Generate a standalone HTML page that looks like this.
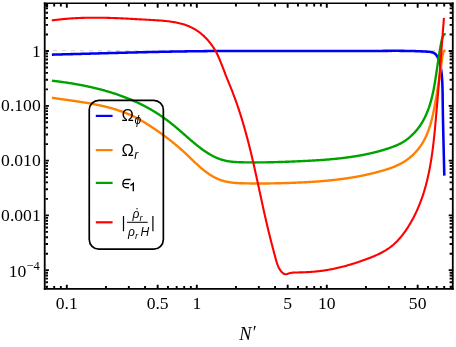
<!DOCTYPE html>
<html><head><meta charset="utf-8"><title>plot</title><style>html,body{margin:0;padding:0;background:#fff}svg{display:block;will-change:transform}</style></head><body>
<svg width="456" height="347" viewBox="0 0 456 347">
<rect width="456" height="347" fill="#fff"/>
<line x1="53" y1="50.6" x2="444.2" y2="50.6" stroke="#dcdcdc" stroke-width="1.4" stroke-dasharray="4 5"/>
<g fill="none" stroke-linecap="butt" stroke-linejoin="round">
<path d="M51.90 54.65 L53.17 54.61 L54.44 54.58 L55.71 54.55 L56.98 54.51 L58.25 54.48 L59.52 54.45 L60.79 54.41 L62.06 54.38 L63.33 54.35 L64.60 54.31 L65.87 54.28 L67.14 54.24 L68.41 54.21 L69.68 54.18 L70.95 54.14 L72.22 54.11 L73.49 54.07 L74.76 54.04 L76.03 54.00 L77.30 53.97 L78.57 53.93 L79.84 53.90 L81.11 53.86 L82.38 53.83 L83.65 53.79 L84.92 53.76 L86.19 53.72 L87.46 53.69 L88.73 53.65 L90.00 53.62 L91.27 53.58 L92.54 53.55 L93.81 53.51 L95.08 53.48 L96.35 53.44 L97.62 53.41 L98.89 53.37 L100.16 53.34 L101.43 53.30 L102.70 53.27 L103.97 53.23 L105.24 53.20 L106.51 53.16 L107.78 53.13 L109.05 53.10 L110.32 53.06 L111.59 53.03 L112.86 52.99 L114.13 52.96 L115.40 52.92 L116.67 52.89 L117.94 52.86 L119.21 52.82 L120.48 52.79 L121.75 52.76 L123.02 52.72 L124.29 52.69 L125.56 52.66 L126.83 52.62 L128.10 52.59 L129.37 52.56 L130.64 52.53 L131.91 52.49 L133.18 52.46 L134.45 52.43 L135.72 52.40 L136.99 52.37 L138.26 52.34 L139.53 52.30 L140.80 52.27 L142.07 52.24 L143.34 52.21 L144.61 52.18 L145.88 52.15 L147.15 52.12 L148.42 52.09 L149.69 52.06 L150.96 52.04 L152.23 52.01 L153.50 51.98 L154.77 51.95 L156.04 51.92 L157.31 51.90 L158.58 51.87 L159.85 51.84 L161.12 51.81 L162.39 51.79 L163.66 51.76 L164.93 51.74 L166.20 51.71 L167.47 51.69 L168.74 51.66 L170.01 51.64 L171.28 51.61 L172.55 51.59 L173.82 51.57 L175.09 51.54 L176.37 51.52 L177.64 51.50 L178.91 51.48 L180.18 51.46 L181.45 51.44 L182.72 51.42 L183.99 51.40 L185.26 51.38 L186.53 51.36 L187.80 51.34 L189.07 51.32 L190.34 51.30 L191.61 51.28 L192.88 51.27 L194.15 51.25 L195.42 51.23 L196.69 51.22 L197.96 51.20 L199.23 51.19 L200.50 51.17 L201.77 51.16 L203.04 51.15 L204.31 51.13 L205.58 51.12 L206.85 51.11 L208.12 51.10 L209.39 51.09 L210.66 51.08 L211.93 51.07 L213.20 51.06 L214.48 51.05 L215.75 51.04 L217.02 51.03 L218.29 51.02 L219.56 51.01 L220.83 51.01 L222.10 51.00 L223.37 50.99 L224.64 50.99 L225.91 50.98 L227.18 50.98 L228.45 50.97 L229.72 50.97 L230.99 50.96 L232.26 50.96 L233.53 50.95 L234.80 50.95 L236.08 50.95 L237.35 50.94 L238.62 50.94 L239.89 50.94 L241.16 50.94 L242.43 50.93 L243.70 50.93 L244.97 50.93 L246.24 50.93 L247.51 50.93 L248.78 50.93 L250.05 50.93 L251.32 50.93 L252.59 50.93 L253.87 50.93 L255.14 50.93 L256.41 50.93 L257.68 50.93 L258.95 50.93 L260.22 50.93 L261.49 50.93 L262.76 50.94 L264.03 50.94 L265.30 50.94 L266.57 50.94 L267.84 50.94 L269.11 50.95 L270.39 50.95 L271.66 50.95 L272.93 50.95 L274.20 50.96 L275.47 50.96 L276.74 50.96 L278.01 50.97 L279.28 50.97 L280.55 50.97 L281.82 50.98 L283.09 50.98 L284.36 50.98 L285.63 50.99 L286.90 50.99 L288.18 50.99 L289.45 51.00 L290.72 51.00 L291.99 51.00 L293.26 51.01 L294.53 51.01 L295.80 51.02 L297.07 51.02 L298.34 51.02 L299.61 51.03 L300.88 51.03 L302.15 51.03 L303.42 51.04 L304.69 51.04 L305.96 51.04 L307.23 51.05 L308.50 51.05 L309.78 51.05 L311.05 51.06 L312.32 51.06 L313.59 51.06 L314.86 51.07 L316.13 51.07 L317.40 51.07 L318.67 51.07 L319.94 51.08 L321.21 51.08 L322.48 51.08 L323.75 51.08 L325.02 51.08 L326.29 51.09 L327.56 51.09 L328.83 51.09 L330.10 51.09 L331.37 51.09 L332.64 51.09 L333.91 51.09 L335.18 51.09 L336.45 51.09 L337.72 51.09 L338.99 51.09 L340.26 51.09 L341.53 51.09 L342.80 51.09 L344.07 51.09 L345.34 51.09 L346.61 51.08 L347.88 51.08 L349.15 51.08 L350.42 51.08 L351.69 51.07 L352.96 51.07 L354.23 51.07 L355.50 51.06 L356.77 51.06 L358.04 51.06 L359.31 51.05 L360.58 51.05 L361.85 51.04 L363.12 51.03 L364.39 51.03 L365.66 51.02 L366.93 51.01 L368.20 51.01 L369.47 51.00 L370.74 50.99 L372.01 50.98 L373.28 50.97 L374.55 50.96 L375.82 50.95 L377.09 50.94 L378.36 50.93 L379.63 50.92 L380.90 50.91 L382.17 50.90 L383.44 50.89 L384.70 50.88 L385.97 50.88 L387.24 50.87 L388.51 50.86 L389.78 50.85 L391.05 50.85 L392.32 50.84 L393.59 50.84 L394.86 50.84 L396.14 50.84 L397.41 50.84 L398.68 50.85 L399.95 50.85 L401.22 50.86 L402.49 50.87 L403.76 50.88 L405.03 50.90 L406.31 50.91 L407.58 50.93 L408.85 50.96 L410.12 50.98 L411.40 51.01 L412.67 51.04 L413.95 51.08 L415.22 51.12 L416.49 51.16 L417.77 51.20 L419.04 51.25 L420.32 51.31 L421.60 51.37 L422.87 51.43 L424.15 51.50 L425.43 51.57 L426.70 51.64 L427.98 51.72 L429.25 51.82 L430.51 51.96 L431.72 52.18 L432.88 52.51 L433.97 52.99 L434.97 53.64 L435.87 54.50 L436.66 55.55 L437.36 56.71 L437.98 57.91 L438.53 59.12 L439.01 60.33 L439.43 61.56 L439.80 62.78 L440.13 64.02 L440.41 65.26 L440.65 66.50 L440.87 67.75 L441.06 69.00 L441.23 70.25 L441.39 71.50 L441.54 72.76 L441.67 74.01 L441.79 75.27 L441.90 76.53 L442.00 77.80 L442.09 79.06 L442.17 80.32 L442.25 81.59 L442.31 82.86 L442.37 84.12 L442.42 85.39 L442.46 86.66 L442.50 87.93 L442.53 89.20 L442.56 90.48 L442.59 91.75 L442.61 93.02 L442.63 94.29 L442.64 95.56 L442.66 96.84 L442.67 98.11 L442.69 99.38 L442.70 100.66 L442.72 101.93 L442.74 103.20 L442.75 104.47 L442.77 105.74 L442.79 107.02 L442.81 108.29 L442.83 109.56 L442.85 110.83 L442.87 112.10 L442.89 113.37 L442.91 114.64 L442.94 115.91 L442.96 117.18 L442.98 118.45 L443.01 119.72 L443.03 120.99 L443.06 122.26 L443.08 123.53 L443.11 124.80 L443.13 126.07 L443.16 127.34 L443.19 128.61 L443.22 129.88 L443.24 131.15 L443.27 132.42 L443.30 133.69 L443.33 134.96 L443.36 136.23 L443.39 137.50 L443.42 138.77 L443.45 140.04 L443.48 141.31 L443.51 142.58 L443.54 143.85 L443.57 145.11 L443.60 146.38 L443.63 147.65 L443.66 148.92 L443.69 150.19 L443.72 151.46 L443.75 152.73 L443.78 154.00 L443.81 155.27 L443.85 156.54 L443.88 157.81 L443.91 159.08 L443.94 160.35 L443.97 161.62 L444.00 162.89 L444.03 164.16 L444.06 165.43 L444.09 166.70 L444.12 167.97 L444.15 169.24 L444.18 170.52 L444.21 171.79 L444.24 173.06 L444.27 174.33 L444.30 175.60" stroke="#0000f2" stroke-width="2.55"/>
<path d="M51.96 97.76 L52.65 97.87 L53.35 97.97 L54.05 98.08 L54.75 98.18 L55.44 98.29 L56.14 98.39 L56.85 98.49 L57.55 98.59 L58.25 98.70 L58.95 98.80 L59.66 98.90 L60.36 99.00 L61.07 99.10 L61.77 99.20 L62.48 99.30 L63.19 99.40 L63.90 99.50 L64.60 99.60 L65.31 99.70 L66.02 99.80 L66.73 99.90 L67.44 100.00 L68.15 100.10 L68.87 100.20 L69.58 100.30 L70.29 100.40 L71.00 100.50 L71.72 100.61 L72.43 100.71 L73.14 100.81 L73.86 100.91 L74.57 101.02 L75.29 101.12 L76.00 101.23 L76.72 101.33 L77.43 101.44 L78.15 101.54 L78.86 101.65 L79.58 101.76 L80.29 101.87 L81.01 101.98 L81.72 102.09 L82.44 102.20 L83.15 102.32 L83.87 102.43 L84.58 102.55 L85.30 102.67 L86.01 102.78 L86.72 102.90 L87.44 103.02 L88.15 103.15 L88.87 103.27 L89.58 103.39 L90.29 103.52 L91.01 103.65 L91.72 103.78 L92.43 103.91 L93.14 104.04 L93.85 104.18 L94.56 104.32 L95.27 104.45 L95.98 104.59 L96.69 104.74 L97.40 104.88 L98.11 105.03 L98.82 105.17 L99.52 105.32 L100.23 105.48 L100.94 105.63 L101.64 105.79 L102.34 105.95 L103.05 106.11 L103.75 106.27 L104.45 106.44 L105.15 106.61 L105.85 106.78 L106.55 106.95 L107.25 107.13 L107.95 107.30 L108.64 107.48 L109.34 107.67 L110.03 107.85 L110.73 108.04 L111.42 108.24 L112.11 108.43 L112.80 108.63 L113.49 108.83 L114.18 109.03 L114.86 109.24 L115.55 109.45 L116.23 109.66 L116.92 109.88 L117.60 110.10 L118.28 110.32 L118.96 110.55 L119.64 110.78 L120.31 111.01 L120.99 111.24 L121.66 111.48 L122.33 111.73 L123.00 111.97 L123.67 112.22 L124.34 112.48 L125.01 112.73 L125.67 112.99 L126.33 113.26 L126.99 113.53 L127.65 113.80 L128.31 114.08 L128.97 114.36 L129.62 114.64 L130.28 114.93 L130.93 115.22 L131.58 115.52 L132.22 115.82 L132.87 116.12 L133.51 116.43 L134.15 116.75 L134.79 117.06 L135.43 117.39 L136.07 117.71 L136.70 118.04 L137.33 118.37 L137.97 118.71 L138.60 119.05 L139.22 119.40 L139.85 119.74 L140.47 120.10 L141.10 120.45 L141.72 120.81 L142.34 121.17 L142.96 121.53 L143.57 121.90 L144.19 122.27 L144.80 122.64 L145.42 123.01 L146.03 123.39 L146.64 123.77 L147.25 124.15 L147.85 124.53 L148.46 124.92 L149.07 125.31 L149.67 125.70 L150.27 126.09 L150.88 126.48 L151.48 126.88 L152.08 127.27 L152.68 127.67 L153.28 128.07 L153.87 128.47 L154.47 128.87 L155.06 129.28 L155.66 129.68 L156.25 130.09 L156.84 130.50 L157.44 130.91 L158.03 131.32 L158.61 131.73 L159.20 132.14 L159.79 132.56 L160.38 132.98 L160.96 133.39 L161.54 133.81 L162.13 134.24 L162.71 134.66 L163.29 135.08 L163.87 135.51 L164.45 135.93 L165.02 136.36 L165.60 136.79 L166.17 137.23 L166.75 137.66 L167.32 138.09 L167.89 138.53 L168.46 138.97 L169.03 139.41 L169.60 139.85 L170.16 140.29 L170.73 140.73 L171.29 141.18 L171.85 141.63 L172.41 142.07 L172.97 142.52 L173.53 142.98 L174.09 143.43 L174.64 143.89 L175.20 144.34 L175.75 144.80 L176.30 145.26 L176.85 145.72 L177.40 146.18 L177.95 146.65 L178.50 147.12 L179.04 147.58 L179.59 148.05 L180.13 148.52 L180.67 149.00 L181.21 149.47 L181.74 149.95 L182.28 150.43 L182.82 150.91 L183.35 151.39 L183.88 151.87 L184.41 152.35 L184.94 152.84 L185.47 153.33 L185.99 153.82 L186.52 154.31 L187.04 154.80 L187.56 155.30 L188.08 155.79 L188.60 156.29 L189.12 156.79 L189.64 157.29 L190.15 157.78 L190.67 158.28 L191.19 158.78 L191.70 159.28 L192.22 159.78 L192.74 160.28 L193.25 160.78 L193.77 161.28 L194.29 161.77 L194.81 162.27 L195.33 162.76 L195.85 163.25 L196.38 163.74 L196.90 164.23 L197.43 164.72 L197.96 165.20 L198.49 165.69 L199.02 166.17 L199.56 166.64 L200.09 167.12 L200.63 167.59 L201.18 168.06 L201.72 168.52 L202.27 168.98 L202.83 169.44 L203.38 169.89 L203.94 170.34 L204.50 170.78 L205.07 171.22 L205.64 171.65 L206.22 172.08 L206.80 172.51 L207.38 172.93 L207.97 173.34 L208.57 173.75 L209.16 174.15 L209.77 174.54 L210.37 174.93 L210.99 175.32 L211.60 175.69 L212.22 176.06 L212.85 176.42 L213.47 176.77 L214.11 177.11 L214.74 177.45 L215.38 177.78 L216.03 178.09 L216.68 178.40 L217.33 178.70 L217.98 178.99 L218.64 179.27 L219.30 179.54 L219.97 179.80 L220.64 180.05 L221.31 180.29 L221.99 180.51 L222.67 180.73 L223.35 180.93 L224.04 181.12 L224.72 181.31 L225.42 181.48 L226.11 181.63 L226.81 181.78 L227.51 181.92 L228.21 182.05 L228.91 182.18 L229.62 182.29 L230.33 182.39 L231.04 182.49 L231.75 182.58 L232.46 182.66 L233.18 182.74 L233.89 182.81 L234.61 182.87 L235.33 182.93 L236.05 182.98 L236.77 183.03 L237.49 183.07 L238.22 183.11 L238.94 183.15 L239.66 183.18 L240.39 183.20 L241.11 183.23 L241.84 183.25 L242.56 183.28 L243.28 183.30 L244.01 183.31 L244.73 183.33 L245.45 183.35 L246.18 183.36 L246.90 183.38 L247.62 183.39 L248.35 183.40 L249.07 183.42 L249.79 183.43 L250.51 183.44 L251.23 183.45 L251.95 183.46 L252.67 183.46 L253.39 183.47 L254.11 183.48 L254.83 183.48 L255.55 183.49 L256.27 183.49 L256.99 183.49 L257.71 183.49 L258.43 183.50 L259.15 183.50 L259.86 183.50 L260.58 183.50 L261.30 183.49 L262.02 183.49 L262.74 183.49 L263.45 183.48 L264.17 183.48 L264.89 183.47 L265.61 183.47 L266.32 183.46 L267.04 183.45 L267.76 183.44 L268.47 183.44 L269.19 183.43 L269.91 183.42 L270.62 183.41 L271.34 183.39 L272.06 183.38 L272.77 183.37 L273.49 183.36 L274.21 183.34 L274.92 183.33 L275.64 183.31 L276.35 183.30 L277.07 183.28 L277.79 183.26 L278.50 183.25 L279.22 183.23 L279.94 183.21 L280.65 183.19 L281.37 183.17 L282.08 183.15 L282.80 183.13 L283.52 183.11 L284.23 183.09 L284.95 183.07 L285.67 183.05 L286.38 183.02 L287.10 183.00 L287.82 182.98 L288.53 182.95 L289.25 182.93 L289.97 182.90 L290.69 182.88 L291.40 182.85 L292.12 182.83 L292.84 182.80 L293.56 182.77 L294.27 182.74 L294.99 182.72 L295.71 182.69 L296.43 182.66 L297.15 182.63 L297.86 182.60 L298.58 182.57 L299.30 182.53 L300.02 182.50 L300.74 182.47 L301.46 182.43 L302.17 182.40 L302.89 182.36 L303.61 182.33 L304.33 182.29 L305.05 182.25 L305.76 182.21 L306.48 182.18 L307.20 182.14 L307.92 182.10 L308.64 182.05 L309.36 182.01 L310.07 181.97 L310.79 181.92 L311.51 181.88 L312.23 181.83 L312.95 181.79 L313.66 181.74 L314.38 181.69 L315.10 181.64 L315.82 181.59 L316.54 181.54 L317.25 181.49 L317.97 181.43 L318.69 181.38 L319.41 181.33 L320.12 181.27 L320.84 181.21 L321.56 181.15 L322.27 181.09 L322.99 181.03 L323.71 180.97 L324.42 180.91 L325.14 180.85 L325.86 180.78 L326.57 180.71 L327.29 180.65 L328.00 180.58 L328.72 180.51 L329.43 180.44 L330.15 180.37 L330.87 180.29 L331.58 180.22 L332.30 180.14 L333.01 180.06 L333.72 179.99 L334.44 179.91 L335.15 179.83 L335.87 179.74 L336.58 179.66 L337.29 179.57 L338.01 179.49 L338.72 179.40 L339.43 179.31 L340.15 179.22 L340.86 179.13 L341.57 179.04 L342.28 178.94 L342.99 178.84 L343.71 178.75 L344.42 178.65 L345.13 178.55 L345.84 178.44 L346.55 178.34 L347.26 178.23 L347.97 178.13 L348.68 178.02 L349.39 177.91 L350.10 177.80 L350.80 177.68 L351.51 177.57 L352.22 177.45 L352.93 177.33 L353.64 177.21 L354.34 177.09 L355.05 176.97 L355.76 176.84 L356.46 176.72 L357.17 176.59 L357.87 176.46 L358.58 176.33 L359.28 176.19 L359.99 176.06 L360.69 175.92 L361.40 175.78 L362.10 175.64 L362.80 175.50 L363.50 175.35 L364.21 175.21 L364.91 175.06 L365.61 174.91 L366.31 174.75 L367.01 174.60 L367.71 174.44 L368.41 174.29 L369.11 174.13 L369.81 173.96 L370.51 173.80 L371.21 173.63 L371.90 173.47 L372.60 173.30 L373.30 173.12 L373.99 172.95 L374.69 172.77 L375.38 172.59 L376.08 172.41 L376.77 172.23 L377.47 172.05 L378.16 171.86 L378.85 171.67 L379.55 171.48 L380.24 171.29 L380.93 171.09 L381.62 170.89 L382.31 170.69 L383.00 170.49 L383.69 170.29 L384.38 170.08 L385.07 169.87 L385.76 169.66 L386.44 169.44 L387.13 169.23 L387.81 169.00 L388.50 168.78 L389.18 168.55 L389.86 168.32 L390.54 168.08 L391.21 167.84 L391.89 167.59 L392.56 167.34 L393.23 167.08 L393.90 166.82 L394.57 166.55 L395.23 166.28 L395.89 166.00 L396.55 165.71 L397.21 165.42 L397.86 165.12 L398.51 164.81 L399.15 164.49 L399.79 164.17 L400.43 163.84 L401.07 163.50 L401.70 163.15 L402.32 162.79 L402.95 162.43 L403.56 162.05 L404.18 161.67 L404.79 161.28 L405.39 160.88 L405.99 160.48 L406.59 160.06 L407.18 159.64 L407.76 159.21 L408.34 158.78 L408.91 158.33 L409.48 157.88 L410.04 157.42 L410.60 156.96 L411.15 156.49 L411.70 156.01 L412.24 155.52 L412.77 155.03 L413.29 154.53 L413.81 154.03 L414.32 153.52 L414.83 153.00 L415.33 152.48 L415.82 151.95 L416.30 151.42 L416.78 150.88 L417.25 150.33 L417.71 149.79 L418.17 149.23 L418.61 148.67 L419.05 148.11 L419.48 147.54 L419.90 146.96 L420.31 146.38 L420.72 145.80 L421.12 145.21 L421.51 144.62 L421.89 144.02 L422.27 143.42 L422.64 142.82 L423.00 142.21 L423.35 141.59 L423.70 140.98 L424.04 140.35 L424.37 139.73 L424.70 139.10 L425.02 138.47 L425.33 137.83 L425.64 137.19 L425.94 136.55 L426.23 135.90 L426.52 135.25 L426.81 134.60 L427.08 133.95 L427.35 133.29 L427.62 132.63 L427.88 131.96 L428.14 131.30 L428.39 130.63 L428.63 129.95 L428.87 129.28 L429.10 128.60 L429.33 127.92 L429.56 127.24 L429.78 126.55 L430.00 125.87 L430.21 125.18 L430.41 124.49 L430.62 123.80 L430.82 123.10 L431.01 122.40 L431.20 121.71 L431.39 121.01 L431.57 120.31 L431.75 119.60 L431.93 118.90 L432.10 118.19 L432.27 117.49 L432.44 116.78 L432.60 116.07 L432.76 115.36 L432.92 114.65 L433.08 113.94 L433.23 113.23 L433.38 112.51 L433.53 111.80 L433.68 111.09 L433.82 110.37 L433.96 109.66 L434.10 108.94 L434.24 108.23 L434.38 107.51 L434.51 106.79 L434.64 106.08 L434.78 105.36 L434.91 104.65 L435.03 103.93 L435.16 103.22 L435.29 102.50 L435.42 101.79 L435.54 101.08 L435.67 100.36 L435.79 99.65 L435.92 98.94 L436.04 98.23 L436.16 97.52 L436.29 96.81 L436.41 96.10 L436.53 95.39 L436.65 94.69 L436.77 93.98 L436.89 93.27 L437.01 92.57 L437.13 91.86 L437.25 91.16 L437.37 90.45 L437.48 89.75 L437.60 89.04 L437.72 88.34 L437.83 87.64 L437.95 86.93 L438.06 86.23 L438.18 85.53 L438.29 84.82 L438.41 84.12 L438.52 83.42 L438.63 82.72 L438.74 82.01 L438.85 81.31 L438.96 80.61 L439.07 79.91 L439.18 79.20 L439.29 78.50 L439.40 77.80 L439.51 77.09 L439.61 76.39 L439.72 75.68 L439.82 74.98 L439.93 74.27 L440.03 73.57 L440.14 72.86 L440.24 72.16 L440.34 71.45 L440.44 70.74 L440.54 70.04 L440.64 69.33 L440.74 68.62 L440.84 67.91 L440.94 67.20 L441.04 66.49 L441.13 65.77 L441.23 65.06 L441.32 64.35 L441.42 63.63 L441.51 62.92 L441.60 62.20 L441.70 61.48 L441.79 60.77 L441.88 60.05 L441.98 59.33 L442.08 58.62 L442.18 57.90 L442.30 57.19 L442.42 56.48 L442.54 55.78 L442.68 55.08 L442.84 54.38 L443.00 53.69 L443.18 53.01 L443.37 52.33 L443.61 51.68 L443.99 51.11 L444.61 50.69 L445.58 50.49" stroke="#ff8000" stroke-width="2.4"/>
<path d="M51.90 80.69 L52.60 80.77 L53.30 80.85 L54.00 80.94 L54.70 81.02 L55.41 81.11 L56.11 81.20 L56.81 81.29 L57.51 81.38 L58.21 81.47 L58.92 81.56 L59.62 81.65 L60.32 81.74 L61.02 81.84 L61.72 81.94 L62.43 82.03 L63.13 82.13 L63.83 82.23 L64.53 82.33 L65.24 82.43 L65.94 82.54 L66.64 82.64 L67.34 82.75 L68.04 82.85 L68.75 82.96 L69.45 83.07 L70.15 83.18 L70.85 83.30 L71.55 83.41 L72.25 83.52 L72.95 83.64 L73.66 83.76 L74.36 83.88 L75.06 84.00 L75.76 84.12 L76.46 84.24 L77.16 84.37 L77.86 84.49 L78.56 84.62 L79.26 84.75 L79.96 84.88 L80.65 85.01 L81.35 85.14 L82.05 85.28 L82.75 85.42 L83.45 85.55 L84.14 85.69 L84.84 85.83 L85.54 85.98 L86.23 86.12 L86.93 86.27 L87.63 86.41 L88.32 86.56 L89.02 86.71 L89.71 86.86 L90.41 87.02 L91.10 87.17 L91.79 87.33 L92.49 87.49 L93.18 87.65 L93.87 87.81 L94.56 87.97 L95.25 88.14 L95.94 88.31 L96.63 88.48 L97.32 88.65 L98.01 88.82 L98.70 88.99 L99.39 89.17 L100.08 89.35 L100.76 89.53 L101.45 89.71 L102.14 89.89 L102.82 90.08 L103.50 90.26 L104.19 90.45 L104.87 90.64 L105.56 90.83 L106.24 91.03 L106.92 91.22 L107.60 91.42 L108.28 91.62 L108.96 91.83 L109.64 92.03 L110.32 92.24 L110.99 92.44 L111.67 92.65 L112.35 92.87 L113.02 93.08 L113.70 93.30 L114.37 93.51 L115.04 93.74 L115.71 93.96 L116.39 94.18 L117.06 94.41 L117.73 94.64 L118.39 94.87 L119.06 95.10 L119.73 95.34 L120.40 95.57 L121.06 95.81 L121.73 96.05 L122.39 96.30 L123.05 96.54 L123.72 96.79 L124.38 97.04 L125.04 97.29 L125.70 97.55 L126.35 97.81 L127.01 98.07 L127.67 98.33 L128.32 98.59 L128.98 98.86 L129.63 99.13 L130.28 99.40 L130.94 99.67 L131.59 99.95 L132.24 100.22 L132.88 100.50 L133.53 100.79 L134.18 101.07 L134.82 101.36 L135.47 101.65 L136.11 101.94 L136.75 102.24 L137.39 102.53 L138.03 102.83 L138.67 103.14 L139.31 103.44 L139.94 103.75 L140.58 104.06 L141.21 104.37 L141.84 104.69 L142.48 105.00 L143.11 105.32 L143.73 105.65 L144.36 105.97 L144.99 106.30 L145.61 106.63 L146.24 106.96 L146.86 107.30 L147.48 107.63 L148.10 107.98 L148.72 108.32 L149.34 108.67 L149.96 109.01 L150.57 109.37 L151.18 109.72 L151.80 110.08 L152.41 110.44 L153.02 110.80 L153.62 111.17 L154.23 111.53 L154.84 111.90 L155.44 112.28 L156.04 112.65 L156.64 113.03 L157.24 113.42 L157.84 113.80 L158.44 114.19 L159.03 114.58 L159.63 114.97 L160.22 115.37 L160.81 115.77 L161.40 116.17 L161.99 116.58 L162.57 116.98 L163.16 117.39 L163.74 117.81 L164.32 118.22 L164.90 118.64 L165.48 119.06 L166.05 119.48 L166.63 119.91 L167.20 120.33 L167.77 120.76 L168.34 121.19 L168.91 121.63 L169.47 122.06 L170.03 122.50 L170.59 122.94 L171.15 123.38 L171.71 123.82 L172.26 124.26 L172.81 124.70 L173.36 125.15 L173.91 125.60 L174.45 126.04 L174.99 126.49 L175.54 126.94 L176.07 127.39 L176.61 127.85 L177.15 128.30 L177.68 128.75 L178.21 129.21 L178.75 129.67 L179.28 130.12 L179.81 130.58 L180.34 131.04 L180.86 131.50 L181.39 131.96 L181.92 132.42 L182.45 132.88 L182.97 133.34 L183.50 133.80 L184.03 134.27 L184.55 134.73 L185.08 135.19 L185.61 135.66 L186.14 136.12 L186.67 136.58 L187.20 137.05 L187.73 137.51 L188.26 137.98 L188.79 138.44 L189.33 138.91 L189.86 139.37 L190.40 139.84 L190.94 140.30 L191.48 140.77 L192.03 141.23 L192.57 141.69 L193.12 142.15 L193.66 142.61 L194.21 143.07 L194.76 143.53 L195.32 143.99 L195.87 144.44 L196.43 144.89 L196.99 145.34 L197.55 145.79 L198.11 146.23 L198.68 146.68 L199.25 147.12 L199.82 147.55 L200.39 147.99 L200.96 148.42 L201.54 148.84 L202.11 149.26 L202.70 149.68 L203.28 150.10 L203.86 150.51 L204.45 150.91 L205.04 151.31 L205.63 151.71 L206.23 152.10 L206.82 152.49 L207.42 152.87 L208.03 153.24 L208.63 153.61 L209.24 153.98 L209.85 154.33 L210.46 154.69 L211.08 155.03 L211.69 155.37 L212.32 155.70 L212.94 156.03 L213.57 156.34 L214.20 156.66 L214.83 156.96 L215.46 157.25 L216.10 157.54 L216.74 157.82 L217.39 158.09 L218.04 158.36 L218.69 158.61 L219.34 158.86 L220.00 159.10 L220.66 159.33 L221.32 159.54 L221.99 159.75 L222.66 159.96 L223.33 160.15 L224.00 160.33 L224.68 160.50 L225.37 160.66 L226.05 160.81 L226.74 160.95 L227.44 161.08 L228.13 161.20 L228.83 161.32 L229.53 161.42 L230.23 161.52 L230.94 161.61 L231.65 161.69 L232.36 161.77 L233.07 161.84 L233.78 161.90 L234.50 161.96 L235.21 162.01 L235.93 162.06 L236.65 162.10 L237.37 162.14 L238.09 162.17 L238.81 162.20 L239.53 162.23 L240.25 162.25 L240.97 162.27 L241.69 162.29 L242.41 162.30 L243.13 162.32 L243.85 162.33 L244.57 162.34 L245.29 162.35 L246.01 162.36 L246.73 162.37 L247.45 162.38 L248.17 162.39 L248.88 162.40 L249.60 162.40 L250.31 162.41 L251.03 162.41 L251.74 162.42 L252.46 162.42 L253.17 162.42 L253.88 162.43 L254.60 162.43 L255.31 162.43 L256.02 162.43 L256.73 162.42 L257.44 162.42 L258.15 162.42 L258.86 162.42 L259.57 162.41 L260.28 162.41 L260.99 162.40 L261.70 162.39 L262.41 162.39 L263.11 162.38 L263.82 162.37 L264.53 162.36 L265.23 162.35 L265.94 162.34 L266.65 162.33 L267.35 162.32 L268.06 162.31 L268.76 162.29 L269.47 162.28 L270.18 162.27 L270.88 162.25 L271.58 162.23 L272.29 162.22 L272.99 162.20 L273.70 162.19 L274.40 162.17 L275.11 162.15 L275.81 162.13 L276.51 162.11 L277.22 162.09 L277.92 162.07 L278.62 162.05 L279.33 162.03 L280.03 162.01 L280.73 161.99 L281.44 161.96 L282.14 161.94 L282.84 161.92 L283.54 161.89 L284.25 161.87 L284.95 161.84 L285.65 161.82 L286.36 161.79 L287.06 161.76 L287.76 161.74 L288.47 161.71 L289.17 161.68 L289.87 161.66 L290.58 161.63 L291.28 161.60 L291.98 161.57 L292.69 161.54 L293.39 161.51 L294.09 161.48 L294.80 161.45 L295.50 161.42 L296.21 161.39 L296.91 161.36 L297.62 161.32 L298.32 161.29 L299.03 161.26 L299.73 161.23 L300.44 161.19 L301.15 161.16 L301.85 161.13 L302.56 161.09 L303.27 161.06 L303.97 161.02 L304.68 160.99 L305.39 160.95 L306.10 160.92 L306.80 160.88 L307.51 160.85 L308.22 160.81 L308.93 160.77 L309.64 160.73 L310.35 160.69 L311.05 160.65 L311.76 160.61 L312.47 160.57 L313.18 160.53 L313.89 160.49 L314.60 160.45 L315.31 160.41 L316.02 160.36 L316.73 160.32 L317.44 160.27 L318.15 160.23 L318.86 160.18 L319.57 160.13 L320.28 160.08 L320.99 160.03 L321.70 159.98 L322.41 159.93 L323.12 159.88 L323.83 159.83 L324.54 159.78 L325.25 159.72 L325.96 159.67 L326.67 159.61 L327.38 159.55 L328.09 159.49 L328.79 159.43 L329.50 159.37 L330.21 159.31 L330.92 159.25 L331.63 159.18 L332.34 159.12 L333.05 159.05 L333.76 158.99 L334.47 158.92 L335.17 158.85 L335.88 158.78 L336.59 158.70 L337.30 158.63 L338.01 158.56 L338.71 158.48 L339.42 158.40 L340.13 158.32 L340.84 158.24 L341.54 158.16 L342.25 158.08 L342.95 157.99 L343.66 157.91 L344.37 157.82 L345.07 157.73 L345.78 157.64 L346.48 157.55 L347.19 157.46 L347.89 157.36 L348.59 157.27 L349.30 157.17 L350.00 157.07 L350.70 156.97 L351.41 156.87 L352.11 156.76 L352.81 156.65 L353.51 156.55 L354.21 156.44 L354.91 156.33 L355.61 156.21 L356.31 156.10 L357.01 155.98 L357.71 155.86 L358.41 155.74 L359.11 155.62 L359.81 155.50 L360.50 155.37 L361.20 155.24 L361.90 155.11 L362.59 154.98 L363.29 154.85 L363.98 154.71 L364.68 154.57 L365.37 154.43 L366.06 154.29 L366.76 154.15 L367.45 154.00 L368.14 153.85 L368.83 153.70 L369.52 153.55 L370.21 153.39 L370.90 153.24 L371.59 153.08 L372.28 152.92 L372.97 152.75 L373.65 152.59 L374.34 152.42 L375.03 152.25 L375.71 152.08 L376.40 151.90 L377.08 151.72 L377.76 151.54 L378.45 151.36 L379.13 151.18 L379.81 150.99 L380.49 150.80 L381.17 150.61 L381.85 150.41 L382.53 150.22 L383.20 150.02 L383.88 149.82 L384.56 149.61 L385.23 149.40 L385.91 149.19 L386.58 148.98 L387.25 148.77 L387.93 148.55 L388.60 148.33 L389.27 148.11 L389.94 147.88 L390.61 147.65 L391.27 147.41 L391.94 147.18 L392.60 146.93 L393.26 146.69 L393.92 146.43 L394.58 146.17 L395.23 145.91 L395.88 145.64 L396.53 145.36 L397.18 145.08 L397.82 144.79 L398.46 144.49 L399.10 144.19 L399.73 143.88 L400.36 143.56 L400.99 143.23 L401.61 142.89 L402.23 142.54 L402.84 142.19 L403.45 141.82 L404.06 141.44 L404.65 141.06 L405.25 140.66 L405.84 140.25 L406.42 139.84 L407.00 139.41 L407.58 138.98 L408.14 138.54 L408.71 138.09 L409.26 137.63 L409.81 137.16 L410.36 136.69 L410.90 136.21 L411.43 135.72 L411.96 135.22 L412.48 134.72 L412.99 134.21 L413.50 133.70 L413.99 133.17 L414.49 132.65 L414.97 132.12 L415.45 131.58 L415.92 131.04 L416.39 130.49 L416.84 129.94 L417.29 129.39 L417.73 128.83 L418.17 128.27 L418.59 127.70 L419.01 127.13 L419.42 126.56 L419.83 125.98 L420.22 125.40 L420.61 124.82 L421.00 124.23 L421.37 123.64 L421.74 123.04 L422.11 122.44 L422.46 121.84 L422.81 121.24 L423.16 120.63 L423.50 120.02 L423.83 119.40 L424.15 118.78 L424.47 118.16 L424.79 117.54 L425.09 116.91 L425.39 116.28 L425.69 115.65 L425.98 115.01 L426.26 114.38 L426.54 113.74 L426.82 113.09 L427.09 112.45 L427.35 111.80 L427.61 111.15 L427.86 110.49 L428.11 109.84 L428.35 109.18 L428.59 108.52 L428.83 107.86 L429.05 107.19 L429.28 106.53 L429.50 105.86 L429.72 105.19 L429.93 104.51 L430.13 103.84 L430.34 103.16 L430.54 102.49 L430.73 101.81 L430.92 101.13 L431.11 100.44 L431.29 99.76 L431.47 99.07 L431.65 98.38 L431.82 97.69 L431.99 97.00 L432.16 96.31 L432.32 95.62 L432.48 94.93 L432.64 94.23 L432.80 93.53 L432.95 92.84 L433.10 92.14 L433.24 91.44 L433.38 90.74 L433.53 90.04 L433.66 89.34 L433.80 88.63 L433.93 87.93 L434.06 87.23 L434.19 86.52 L434.32 85.82 L434.45 85.11 L434.57 84.41 L434.69 83.70 L434.81 82.99 L434.93 82.29 L435.05 81.58 L435.16 80.87 L435.28 80.17 L435.39 79.46 L435.50 78.75 L435.61 78.05 L435.72 77.34 L435.83 76.63 L435.94 75.92 L436.04 75.22 L436.15 74.51 L436.25 73.81 L436.36 73.10 L436.46 72.40 L436.57 71.69 L436.67 70.99 L436.77 70.29 L436.88 69.58 L436.98 68.88 L437.09 68.18 L437.19 67.48 L437.29 66.78 L437.40 66.08 L437.50 65.38 L437.60 64.69 L437.71 63.99 L437.81 63.29 L437.92 62.59 L438.02 61.90 L438.13 61.20 L438.23 60.50 L438.34 59.81 L438.45 59.11 L438.55 58.42 L438.66 57.72 L438.77 57.02 L438.88 56.33 L438.99 55.63 L439.10 54.94 L439.21 54.24 L439.33 53.54 L439.44 52.85 L439.55 52.15 L439.67 51.45 L439.79 50.75 L439.90 50.05 L440.02 49.36 L440.14 48.66 L440.26 47.96 L440.38 47.26 L440.51 46.55 L440.63 45.85 L440.75 45.15 L440.88 44.45 L441.01 43.74 L441.14 43.04 L441.27 42.33 L441.42 41.63 L441.56 40.93 L441.72 40.24 L441.90 39.55 L442.08 38.87 L442.29 38.19 L442.51 37.53 L442.75 36.87 L443.02 36.22 L443.31 35.59 L443.63 34.98 L444.05 34.45 L444.70 34.15 L445.69 34.18" stroke="#00a200" stroke-width="2.4"/>
<path d="M51.74 20.43 L52.85 20.28 L53.96 20.13 L55.07 19.99 L56.17 19.85 L57.28 19.72 L58.38 19.59 L59.48 19.47 L60.58 19.35 L61.68 19.23 L62.78 19.13 L63.88 19.02 L64.98 18.92 L66.07 18.83 L67.16 18.73 L68.26 18.65 L69.35 18.56 L70.44 18.49 L71.53 18.41 L72.62 18.34 L73.71 18.27 L74.80 18.21 L75.88 18.15 L76.97 18.10 L78.05 18.05 L79.14 18.00 L80.22 17.95 L81.31 17.91 L82.39 17.88 L83.47 17.84 L84.55 17.81 L85.63 17.79 L86.72 17.76 L87.80 17.74 L88.88 17.72 L89.96 17.71 L91.03 17.70 L92.11 17.69 L93.19 17.68 L94.27 17.68 L95.35 17.68 L96.43 17.68 L97.51 17.69 L98.58 17.70 L99.66 17.71 L100.74 17.72 L101.82 17.74 L102.89 17.76 L103.97 17.78 L105.05 17.80 L106.13 17.82 L107.21 17.85 L108.28 17.88 L109.36 17.91 L110.44 17.94 L111.52 17.98 L112.60 18.01 L113.68 18.05 L114.76 18.09 L115.84 18.13 L116.92 18.17 L118.00 18.22 L119.08 18.26 L120.16 18.31 L121.25 18.36 L122.33 18.41 L123.41 18.46 L124.50 18.51 L125.58 18.56 L126.67 18.62 L127.76 18.67 L128.84 18.73 L129.93 18.79 L131.02 18.84 L132.11 18.90 L133.20 18.96 L134.29 19.02 L135.39 19.08 L136.48 19.14 L137.57 19.20 L138.67 19.26 L139.77 19.33 L140.87 19.39 L141.96 19.45 L143.06 19.51 L144.17 19.57 L145.27 19.64 L146.37 19.70 L147.48 19.76 L148.58 19.82 L149.69 19.88 L150.80 19.94 L151.91 20.01 L153.02 20.07 L154.14 20.13 L155.25 20.20 L156.36 20.26 L157.47 20.33 L158.58 20.41 L159.70 20.48 L160.81 20.57 L161.91 20.65 L163.02 20.75 L164.13 20.85 L165.23 20.95 L166.33 21.06 L167.43 21.18 L168.53 21.31 L169.62 21.45 L170.71 21.60 L171.79 21.76 L172.87 21.92 L173.95 22.10 L175.02 22.29 L176.09 22.50 L177.15 22.71 L178.20 22.94 L179.26 23.18 L180.30 23.44 L181.34 23.71 L182.37 24.00 L183.40 24.30 L184.41 24.62 L185.42 24.96 L186.43 25.31 L187.42 25.69 L188.41 26.08 L189.39 26.49 L190.36 26.92 L191.32 27.37 L192.27 27.85 L193.21 28.34 L194.14 28.86 L195.06 29.39 L195.98 29.95 L196.88 30.54 L197.77 31.14 L198.65 31.76 L199.51 32.40 L200.37 33.06 L201.21 33.74 L202.05 34.44 L202.87 35.15 L203.67 35.89 L204.47 36.63 L205.25 37.40 L206.02 38.18 L206.77 38.98 L207.51 39.79 L208.24 40.61 L208.95 41.45 L209.65 42.30 L210.33 43.16 L210.99 44.04 L211.65 44.92 L212.28 45.82 L212.90 46.73 L213.51 47.65 L214.10 48.58 L214.67 49.51 L215.22 50.46 L215.76 51.41 L216.28 52.37 L216.78 53.34 L217.27 54.31 L217.75 55.29 L218.21 56.28 L218.67 57.27 L219.11 58.27 L219.54 59.27 L219.96 60.27 L220.37 61.28 L220.78 62.29 L221.18 63.31 L221.58 64.33 L221.97 65.34 L222.36 66.36 L222.75 67.38 L223.13 68.41 L223.52 69.43 L223.91 70.45 L224.30 71.47 L224.69 72.49 L225.09 73.50 L225.48 74.52 L225.88 75.53 L226.29 76.55 L226.69 77.56 L227.10 78.57 L227.51 79.58 L227.92 80.59 L228.33 81.61 L228.74 82.62 L229.15 83.63 L229.56 84.64 L229.96 85.65 L230.37 86.66 L230.78 87.67 L231.18 88.68 L231.59 89.69 L231.99 90.70 L232.38 91.72 L232.78 92.73 L233.17 93.75 L233.56 94.76 L233.94 95.78 L234.32 96.80 L234.70 97.82 L235.08 98.84 L235.45 99.86 L235.82 100.89 L236.18 101.91 L236.55 102.93 L236.91 103.96 L237.26 104.99 L237.62 106.02 L237.97 107.05 L238.32 108.08 L238.66 109.11 L239.00 110.14 L239.34 111.17 L239.68 112.21 L240.02 113.24 L240.35 114.28 L240.68 115.31 L241.00 116.35 L241.33 117.39 L241.65 118.43 L241.97 119.47 L242.28 120.51 L242.60 121.55 L242.91 122.59 L243.22 123.64 L243.52 124.68 L243.83 125.73 L244.13 126.77 L244.43 127.82 L244.73 128.86 L245.02 129.91 L245.32 130.96 L245.61 132.01 L245.90 133.06 L246.18 134.11 L246.47 135.16 L246.75 136.21 L247.03 137.27 L247.31 138.32 L247.59 139.37 L247.87 140.43 L248.14 141.48 L248.41 142.54 L248.68 143.60 L248.95 144.65 L249.22 145.71 L249.48 146.77 L249.75 147.83 L250.01 148.89 L250.27 149.95 L250.53 151.01 L250.79 152.07 L251.04 153.13 L251.30 154.19 L251.55 155.25 L251.80 156.31 L252.05 157.38 L252.30 158.44 L252.55 159.50 L252.80 160.57 L253.04 161.63 L253.29 162.70 L253.53 163.76 L253.78 164.83 L254.02 165.89 L254.26 166.96 L254.50 168.02 L254.74 169.09 L254.98 170.15 L255.21 171.22 L255.45 172.29 L255.69 173.35 L255.92 174.42 L256.16 175.49 L256.39 176.55 L256.62 177.62 L256.86 178.69 L257.09 179.76 L257.32 180.82 L257.55 181.89 L257.79 182.96 L258.02 184.02 L258.25 185.09 L258.48 186.16 L258.71 187.22 L258.94 188.29 L259.17 189.36 L259.40 190.42 L259.63 191.49 L259.86 192.55 L260.09 193.62 L260.32 194.68 L260.55 195.75 L260.78 196.81 L261.01 197.88 L261.24 198.94 L261.47 200.01 L261.70 201.07 L261.93 202.13 L262.16 203.20 L262.39 204.26 L262.62 205.32 L262.86 206.38 L263.09 207.44 L263.32 208.50 L263.56 209.56 L263.79 210.62 L264.03 211.68 L264.27 212.74 L264.50 213.80 L264.74 214.86 L264.98 215.91 L265.22 216.97 L265.46 218.02 L265.70 219.08 L265.94 220.13 L266.19 221.19 L266.43 222.24 L266.68 223.29 L266.92 224.34 L267.17 225.39 L267.42 226.44 L267.67 227.49 L267.92 228.54 L268.17 229.59 L268.43 230.63 L268.68 231.68 L268.94 232.73 L269.19 233.77 L269.45 234.82 L269.71 235.87 L269.98 236.91 L270.24 237.96 L270.50 239.01 L270.77 240.05 L271.03 241.10 L271.30 242.15 L271.57 243.20 L271.84 244.25 L272.12 245.30 L272.39 246.35 L272.67 247.40 L272.94 248.46 L273.22 249.51 L273.50 250.57 L273.78 251.63 L274.06 252.69 L274.35 253.75 L274.63 254.81 L274.92 255.88 L275.21 256.95 L275.50 258.02 L275.79 259.09 L276.09 260.16 L276.39 261.23 L276.71 262.29 L277.04 263.35 L277.40 264.39 L277.79 265.42 L278.21 266.44 L278.67 267.43 L279.18 268.40 L279.73 269.34 L280.33 270.25 L281.00 271.13 L281.72 271.97 L282.52 272.77 L283.38 273.49 L284.31 274.03 L285.29 274.30 L286.32 274.22 L287.39 273.91 L288.47 273.52 L289.55 273.18 L290.63 272.93 L291.71 272.74 L292.79 272.62 L293.86 272.53 L294.94 272.49 L296.01 272.46 L297.09 272.45 L298.17 272.43 L299.25 272.41 L300.34 272.39 L301.42 272.36 L302.51 272.33 L303.60 272.29 L304.69 272.25 L305.78 272.20 L306.87 272.15 L307.96 272.09 L309.05 272.03 L310.15 271.96 L311.24 271.88 L312.33 271.80 L313.42 271.71 L314.51 271.62 L315.60 271.52 L316.69 271.41 L317.78 271.29 L318.86 271.17 L319.95 271.04 L321.03 270.91 L322.11 270.76 L323.19 270.61 L324.27 270.46 L325.34 270.29 L326.41 270.12 L327.48 269.94 L328.55 269.76 L329.62 269.56 L330.69 269.37 L331.75 269.16 L332.82 268.95 L333.88 268.73 L334.94 268.51 L336.00 268.27 L337.05 268.04 L338.11 267.80 L339.16 267.55 L340.22 267.29 L341.27 267.03 L342.32 266.76 L343.37 266.49 L344.42 266.21 L345.47 265.93 L346.51 265.64 L347.56 265.35 L348.60 265.05 L349.65 264.74 L350.69 264.43 L351.73 264.12 L352.77 263.80 L353.81 263.47 L354.85 263.14 L355.89 262.81 L356.93 262.47 L357.96 262.13 L359.00 261.78 L360.04 261.43 L361.07 261.07 L362.11 260.71 L363.14 260.34 L364.17 259.97 L365.21 259.60 L366.24 259.22 L367.27 258.84 L368.30 258.45 L369.33 258.06 L370.36 257.66 L371.38 257.26 L372.41 256.85 L373.42 256.43 L374.44 256.00 L375.44 255.56 L376.45 255.12 L377.45 254.66 L378.44 254.20 L379.42 253.72 L380.40 253.23 L381.37 252.73 L382.33 252.22 L383.29 251.70 L384.23 251.16 L385.17 250.61 L386.09 250.04 L387.01 249.46 L387.91 248.87 L388.81 248.26 L389.69 247.63 L390.56 246.98 L391.41 246.32 L392.25 245.64 L393.09 244.94 L393.90 244.23 L394.71 243.50 L395.50 242.75 L396.28 241.99 L397.05 241.22 L397.80 240.43 L398.55 239.63 L399.28 238.82 L400.00 237.99 L400.71 237.15 L401.41 236.31 L402.10 235.45 L402.78 234.58 L403.44 233.71 L404.10 232.82 L404.75 231.93 L405.38 231.03 L406.01 230.13 L406.63 229.21 L407.23 228.30 L407.83 227.37 L408.42 226.45 L409.00 225.52 L409.57 224.58 L410.13 223.64 L410.68 222.70 L411.23 221.76 L411.76 220.81 L412.29 219.86 L412.81 218.90 L413.32 217.94 L413.82 216.98 L414.32 216.02 L414.80 215.05 L415.28 214.08 L415.75 213.10 L416.21 212.12 L416.67 211.14 L417.11 210.16 L417.55 209.17 L417.98 208.18 L418.41 207.19 L418.82 206.20 L419.23 205.20 L419.63 204.20 L420.03 203.19 L420.42 202.19 L420.80 201.18 L421.17 200.17 L421.54 199.15 L421.90 198.14 L422.25 197.12 L422.60 196.10 L422.94 195.07 L423.28 194.05 L423.61 193.02 L423.93 191.99 L424.24 190.95 L424.55 189.92 L424.86 188.88 L425.16 187.84 L425.45 186.80 L425.74 185.76 L426.02 184.71 L426.29 183.66 L426.56 182.61 L426.83 181.56 L427.09 180.51 L427.34 179.45 L427.59 178.40 L427.84 177.34 L428.07 176.28 L428.31 175.22 L428.54 174.15 L428.76 173.09 L428.98 172.02 L429.20 170.95 L429.41 169.88 L429.62 168.81 L429.82 167.74 L430.02 166.67 L430.21 165.59 L430.40 164.52 L430.59 163.44 L430.77 162.36 L430.95 161.28 L431.13 160.20 L431.30 159.12 L431.47 158.04 L431.63 156.95 L431.79 155.87 L431.95 154.79 L432.11 153.70 L432.26 152.61 L432.41 151.53 L432.55 150.44 L432.69 149.35 L432.83 148.26 L432.97 147.17 L433.11 146.08 L433.24 144.99 L433.37 143.90 L433.49 142.81 L433.62 141.71 L433.74 140.62 L433.86 139.53 L433.98 138.43 L434.10 137.34 L434.21 136.25 L434.33 135.15 L434.44 134.06 L434.55 132.97 L434.66 131.87 L434.76 130.78 L434.87 129.69 L434.97 128.59 L435.07 127.50 L435.18 126.41 L435.28 125.31 L435.38 124.22 L435.48 123.13 L435.57 122.04 L435.67 120.95 L435.77 119.86 L435.86 118.76 L435.96 117.67 L436.05 116.59 L436.15 115.50 L436.24 114.41 L436.34 113.32 L436.43 112.23 L436.53 111.15 L436.62 110.06 L436.71 108.97 L436.81 107.89 L436.90 106.80 L436.99 105.72 L437.08 104.64 L437.17 103.55 L437.27 102.47 L437.36 101.39 L437.45 100.30 L437.54 99.22 L437.63 98.14 L437.72 97.06 L437.81 95.98 L437.90 94.89 L437.99 93.81 L438.08 92.73 L438.16 91.65 L438.25 90.57 L438.34 89.49 L438.43 88.41 L438.52 87.33 L438.60 86.25 L438.69 85.17 L438.78 84.09 L438.87 83.02 L438.95 81.94 L439.04 80.86 L439.13 79.78 L439.21 78.70 L439.30 77.62 L439.39 76.54 L439.47 75.46 L439.56 74.38 L439.64 73.31 L439.73 72.23 L439.81 71.15 L439.90 70.07 L439.98 68.99 L440.07 67.91 L440.15 66.83 L440.24 65.75 L440.32 64.67 L440.41 63.59 L440.49 62.51 L440.58 61.43 L440.66 60.35 L440.75 59.27 L440.83 58.19 L440.91 57.11 L441.00 56.02 L441.08 54.94 L441.17 53.86 L441.25 52.78 L441.33 51.69 L441.42 50.61 L441.50 49.53 L441.58 48.44 L441.67 47.36 L441.75 46.27 L441.84 45.19 L441.92 44.10 L442.00 43.01 L442.09 41.93 L442.17 40.84 L442.25 39.75 L442.34 38.66 L442.42 37.57 L442.51 36.49 L442.59 35.40 L442.67 34.30 L442.76 33.21 L442.84 32.12 L442.92 31.03 L443.01 29.93 L443.09 28.84 L443.18 27.75 L443.26 26.65 L443.35 25.55 L443.43 24.46 L443.52 23.36 L443.60 22.26 L443.68 21.16 L443.77 20.06 L443.85 18.96 L443.94 17.86" stroke="#ff0000" stroke-width="2.1"/>
</g>
<path d="M46.66 288.00 V286.00 M46.66 4.00 V6.50 M54.20 288.00 V286.00 M54.20 4.00 V6.50 M60.85 288.00 V286.00 M60.85 4.00 V6.50 M66.80 288.00 V284.80 M66.80 4.00 V7.80 M105.93 288.00 V286.00 M105.93 4.00 V6.50 M128.83 288.00 V286.00 M128.83 4.00 V6.50 M145.07 288.00 V286.00 M145.07 4.00 V6.50 M157.67 288.00 V284.80 M157.67 4.00 V7.80 M167.96 288.00 V286.00 M167.96 4.00 V6.50 M176.66 288.00 V286.00 M176.66 4.00 V6.50 M184.20 288.00 V286.00 M184.20 4.00 V6.50 M190.85 288.00 V286.00 M190.85 4.00 V6.50 M196.80 288.00 V284.80 M196.80 4.00 V7.80 M235.93 288.00 V286.00 M235.93 4.00 V6.50 M258.83 288.00 V286.00 M258.83 4.00 V6.50 M275.07 288.00 V286.00 M275.07 4.00 V6.50 M287.67 288.00 V284.80 M287.67 4.00 V7.80 M297.96 288.00 V286.00 M297.96 4.00 V6.50 M306.66 288.00 V286.00 M306.66 4.00 V6.50 M314.20 288.00 V286.00 M314.20 4.00 V6.50 M320.85 288.00 V286.00 M320.85 4.00 V6.50 M326.80 288.00 V284.80 M326.80 4.00 V7.80 M365.93 288.00 V286.00 M365.93 4.00 V6.50 M388.83 288.00 V286.00 M388.83 4.00 V6.50 M405.07 288.00 V286.00 M405.07 4.00 V6.50 M417.67 288.00 V284.80 M417.67 4.00 V7.80 M427.96 288.00 V286.00 M427.96 4.00 V6.50 M436.66 288.00 V286.00 M436.66 4.00 V6.50 M444.20 288.00 V286.00 M444.20 4.00 V6.50 M450.85 288.00 V286.00 M450.85 4.00 V6.50 M45.50 286.66 H48.00 M452.00 286.66 H449.60 M45.50 282.32 H48.00 M452.00 282.32 H449.60 M45.50 278.66 H48.00 M452.00 278.66 H449.60 M45.50 275.48 H48.00 M452.00 275.48 H449.60 M45.50 272.68 H48.00 M452.00 272.68 H449.60 M45.50 270.17 H48.90 M452.00 270.17 H448.70 M45.50 253.68 H48.00 M452.00 253.68 H449.60 M45.50 244.03 H48.00 M452.00 244.03 H449.60 M45.50 237.19 H48.00 M452.00 237.19 H449.60 M45.50 231.88 H48.00 M452.00 231.88 H449.60 M45.50 227.54 H48.00 M452.00 227.54 H449.60 M45.50 223.88 H48.00 M452.00 223.88 H449.60 M45.50 220.70 H48.00 M452.00 220.70 H449.60 M45.50 217.90 H48.00 M452.00 217.90 H449.60 M45.50 215.39 H48.90 M452.00 215.39 H448.70 M45.50 198.90 H48.00 M452.00 198.90 H449.60 M45.50 189.25 H48.00 M452.00 189.25 H449.60 M45.50 182.41 H48.00 M452.00 182.41 H449.60 M45.50 177.10 H48.00 M452.00 177.10 H449.60 M45.50 172.76 H48.00 M452.00 172.76 H449.60 M45.50 169.10 H48.00 M452.00 169.10 H449.60 M45.50 165.92 H48.00 M452.00 165.92 H449.60 M45.50 163.12 H48.00 M452.00 163.12 H449.60 M45.50 160.61 H48.90 M452.00 160.61 H448.70 M45.50 144.12 H48.00 M452.00 144.12 H449.60 M45.50 134.47 H48.00 M452.00 134.47 H449.60 M45.50 127.63 H48.00 M452.00 127.63 H449.60 M45.50 122.32 H48.00 M452.00 122.32 H449.60 M45.50 117.98 H48.00 M452.00 117.98 H449.60 M45.50 114.32 H48.00 M452.00 114.32 H449.60 M45.50 111.14 H48.00 M452.00 111.14 H449.60 M45.50 108.34 H48.00 M452.00 108.34 H449.60 M45.50 105.83 H48.90 M452.00 105.83 H448.70 M45.50 89.34 H48.00 M452.00 89.34 H449.60 M45.50 79.69 H48.00 M452.00 79.69 H449.60 M45.50 72.85 H48.00 M452.00 72.85 H449.60 M45.50 67.54 H48.00 M452.00 67.54 H449.60 M45.50 63.20 H48.00 M452.00 63.20 H449.60 M45.50 59.54 H48.00 M452.00 59.54 H449.60 M45.50 56.36 H48.00 M452.00 56.36 H449.60 M45.50 53.56 H48.00 M452.00 53.56 H449.60 M45.50 51.05 H48.90 M452.00 51.05 H448.70 M45.50 34.56 H48.00 M452.00 34.56 H449.60 M45.50 24.91 H48.00 M452.00 24.91 H449.60 M45.50 18.07 H48.00 M452.00 18.07 H449.60 M45.50 12.76 H48.00 M452.00 12.76 H449.60 M45.50 8.42 H48.00 M452.00 8.42 H449.60 M45.50 4.76 H48.00 M452.00 4.76 H449.60" stroke="#000" stroke-width="1.9" fill="none"/>
<rect x="45.5" y="4" width="2.6" height="3.4" fill="#000"/><path d="M449.2 4 H452 V7.6 Z" fill="#000"/>
<path d="M44.72 2.45 V289.7 M452.78 2.45 V289.7" stroke="#000" stroke-width="1.8" fill="none"/>
<path d="M43.82 3.25 H453.65" stroke="#000" stroke-width="1.65" fill="none"/>
<path d="M43.82 288.8 H453.65" stroke="#000" stroke-width="1.8" fill="none"/>
<g font-family="'Liberation Serif', serif" font-size="17.6" fill="#000">
<text x="66.80" y="309.1" text-anchor="middle">0.1</text>
<text x="157.67" y="309.1" text-anchor="middle">0.5</text>
<text x="196.80" y="309.1" text-anchor="middle">1</text>
<text x="287.67" y="309.1" text-anchor="middle">5</text>
<text x="326.80" y="309.1" text-anchor="middle">10</text>
<text x="417.67" y="309.1" text-anchor="middle">50</text>
<text x="40.7" y="56.65" text-anchor="end">1</text>
<text x="40.7" y="111.43" text-anchor="end">0.100</text>
<text x="40.7" y="166.21" text-anchor="end">0.010</text>
<text x="40.7" y="220.99" text-anchor="end">0.001</text>
<text x="8.8" y="277">10<tspan font-size="12.5" dy="-7">−4</tspan></text>
<text x="239.3" y="339.6" font-style="italic" font-size="18.3">N<tspan font-style="normal" dx="1.3" dy="-0.2" font-size="18">′</tspan></text>
</g>
<rect x="89.25" y="100.4" width="74.1" height="148.8" rx="9.6" ry="9.6" fill="none" stroke="#000" stroke-width="1.7"/>
<g stroke-width="2.2" fill="none">
<line x1="95.8" x2="112.6" y1="115.9" y2="115.9" stroke="#0000f2"/>
<line x1="95.8" x2="112.6" y1="150.1" y2="150.1" stroke="#ff8000"/>
<line x1="95.8" x2="112.6" y1="182.9" y2="182.9" stroke="#00a200"/>
<line x1="95.8" x2="112.6" y1="222.3" y2="222.3" stroke="#ff0000"/>
</g>
<g font-family="'Liberation Sans', sans-serif" fill="#000">
<text x="121.6" y="121.2" font-size="17" textLength="12.4" lengthAdjust="spacingAndGlyphs">Ω</text>
<text x="134.6" y="123.9" font-size="12" font-style="italic">ϕ</text>
<text x="121.6" y="155.6" font-size="17" textLength="12.4" lengthAdjust="spacingAndGlyphs">Ω</text>
<text x="134.2" y="158.7" font-size="12" font-style="italic">r</text>
<path d="M130.6 179.5 L126.4 179.4 C124.2 179.5 123 181.4 122.9 183.6 C122.8 186 123.7 187.4 125.8 187.55 L128.9 187.75 M123.1 183.6 H129.2" fill="none" stroke="#000" stroke-width="1.3"/>
<path d="M130.4 185.5 L133.3 183.3 V191.2" fill="none" stroke="#000" stroke-width="1.4" stroke-linejoin="miter"/>
<path d="M123.5 216 V231.2 M152.9 216 V231.2" stroke="#000" stroke-width="1.2"/>
<path d="M127 222.3 H147.7" stroke="#000" stroke-width="1"/>
<text x="132.6" y="218.2" font-size="12" font-style="italic">ρ</text>
<circle cx="137" cy="208.7" r="0.7"/>
<text x="139.6" y="220.8" font-size="9.5" font-style="italic">r</text>
<text x="128" y="235.8" font-size="12" font-style="italic">ρ</text>
<text x="135" y="238.6" font-size="9.5" font-style="italic">r</text>
<text x="140.4" y="236.3" font-size="12" font-style="italic">H</text>
</g>
</svg>
</body></html>
